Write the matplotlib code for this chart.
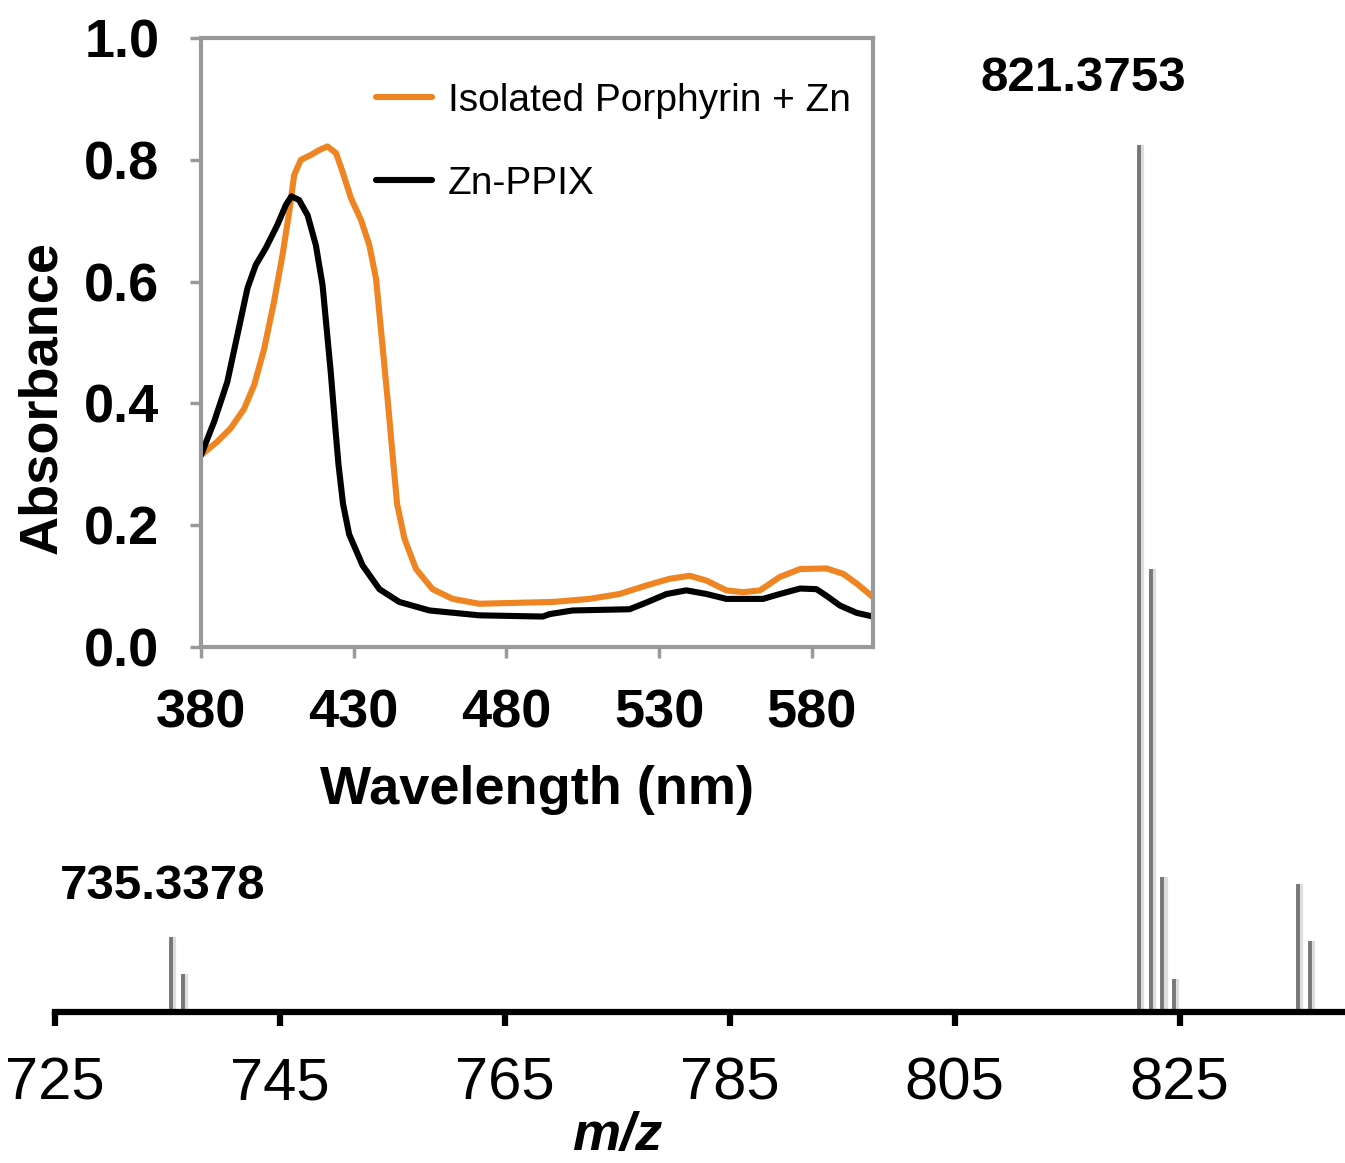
import matplotlib
matplotlib.use("Agg")
import matplotlib.pyplot as plt

plt.rcParams['font.family'] = ['Liberation Sans', 'DejaVu Sans']

# mass spectrum sticks (m/z, relative intensity)
mz = [735.34, 736.34, 821.38, 822.42, 823.46, 824.50, 835.54, 836.60]
intensity = [8.7, 4.4, 100.0, 51.1, 15.6, 3.8, 14.8, 8.2]
mz_ticks = [725, 745, 765, 785, 805, 825]

# UV-vis inset
wl_iso = [380, 385.3, 389.7, 394.1, 397.4, 400.7, 403.9, 406.7, 408.9, 410.5, 412.7,
          416.0, 418.7, 421.4, 424.2, 426.3, 429.1, 432.4, 435.1, 437.3, 439.4,
          441.4, 443.0, 444.2, 446.6, 450.4, 455.8, 462.4, 471.1, 495.2, 507.2,
          517.0, 525.8, 533.4, 540.0, 545.5, 552.0, 557.5, 563.0, 569.5, 576.1,
          584.8, 590.3, 594.7, 600.0]
abs_iso = [0.315, 0.337, 0.359, 0.391, 0.430, 0.490, 0.567, 0.644, 0.715, 0.775, 0.800,
           0.808, 0.816, 0.822, 0.811, 0.781, 0.737, 0.701, 0.660, 0.605, 0.496,
           0.390, 0.300, 0.235, 0.178, 0.128, 0.095, 0.079, 0.071, 0.074, 0.079,
           0.087, 0.101, 0.112, 0.117, 0.109, 0.093, 0.090, 0.093, 0.115, 0.128,
           0.129, 0.120, 0.104, 0.082]
wl_zn = [380, 384.3, 388.6, 391.9, 395.2, 397.9, 401.2, 405.0, 407.8, 409.6, 412.1,
         414.9, 417.6, 419.8, 422.5, 423.8, 425.0, 426.5, 428.5, 432.9, 438.4,
         444.9, 454.8, 471.1, 491.9, 494.1, 501.7, 520.3, 525.8, 532.4, 538.9,
         545.5, 552.0, 564.0, 569.5, 576.1, 581.5, 584.8, 589.2, 594.7, 600.0]
abs_zn = [0.315, 0.370, 0.435, 0.512, 0.589, 0.627, 0.655, 0.693, 0.726, 0.740, 0.734,
          0.709, 0.660, 0.594, 0.450, 0.370, 0.300, 0.235, 0.185, 0.134, 0.095,
          0.074, 0.060, 0.052, 0.050, 0.054, 0.060, 0.062, 0.073, 0.087, 0.093,
          0.087, 0.079, 0.079, 0.087, 0.096, 0.095, 0.084, 0.068, 0.056, 0.050]
wl_ticks = [380, 430, 480, 530, 580]
abs_ticks = [0.0, 0.2, 0.4, 0.6, 0.8, 1.0]

fig = plt.figure(figsize=(13.45, 11.63), dpi=100)

# ---- main mass spectrum ----
ax = fig.add_axes([0.0409, 0.1298, 0.9591, 0.8702])
shadow_mz = [m + 0.28 for m in mz]
ax.vlines(shadow_mz, 0, intensity, color='#dddddd', lw=3)
ax.vlines(mz, 0, intensity, color='#777777', lw=2.8)
ax.set_xlim(725, 839.7)
ax.set_ylim(0, 116.7)
for s in ['left', 'right', 'top']:
    ax.spines[s].set_visible(False)
ax.spines['bottom'].set_linewidth(4.5)
ax.set_yticks([])
ax.set_xticks(mz_ticks)
ax.tick_params(axis='x', direction='out', length=10, width=4.5, pad=22, labelsize=43)
ax.text(816.4, 107.7, '821.3753', ha='center', va='center', fontsize=35.5, fontweight='bold')
ax.text(734.55, 14.5, '735.3378', ha='center', va='center', fontsize=35.5, fontweight='bold')
fig.text(617 / 1345, 1 - 1136 / 1163, 'm/z', ha='center', va='center', fontsize=39,
         fontweight='bold', style='italic')

# ---- inset UV-vis ----
ins = fig.add_axes([201 / 1345, 1 - 647 / 1163, 672 / 1345, 609 / 1163])
ins.plot(wl_iso, abs_iso, color='#EE8422', lw=4.4, label='Isolated Porphyrin + Zn',
         solid_joinstyle='round', solid_capstyle='round')
ins.plot(wl_zn, abs_zn, color='black', lw=4.4, label='Zn-PPIX',
         solid_joinstyle='round', solid_capstyle='round')
ins.set_xlim(380, 600)
ins.set_ylim(0, 1.0)
ins.set_xticks(wl_ticks)
ins.set_yticks(abs_ticks)
ins.set_yticklabels([f'{v:.1f}' for v in abs_ticks])
for s in ins.spines.values():
    s.set_color('#999999')
    s.set_linewidth(3)
ins.tick_params(direction='out', length=8, width=2.5, color='#999999', labelsize=39)
ins.tick_params(axis='y', pad=22)
ins.tick_params(axis='x', pad=22)
for lab in ins.get_xticklabels() + ins.get_yticklabels():
    lab.set_fontweight('bold')
fig.text(537 / 1345, 1 - 790 / 1163, 'Wavelength (nm)', ha='center', va='center',
         fontsize=39, fontweight='bold')
fig.text(42 / 1345, 1 - 398 / 1163, 'Absorbance', ha='center', va='center',
         fontsize=39, fontweight='bold', rotation=90)
ins.legend(loc='upper left', bbox_to_anchor=(0.26, 0.926), frameon=False, fontsize=28,
           handlelength=1.45, handletextpad=0.4, labelspacing=1.2, borderpad=0,
           borderaxespad=0)

fig.savefig('out.png', dpi=100)
